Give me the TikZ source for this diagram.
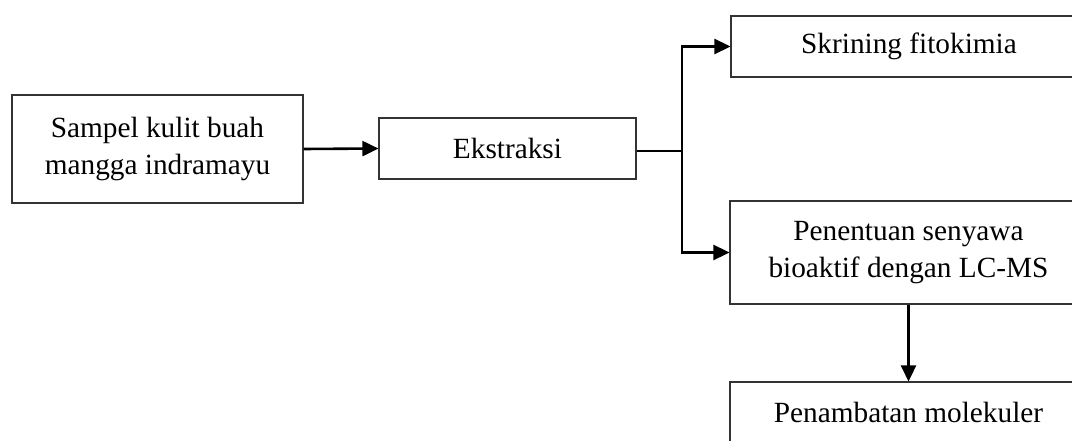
\documentclass[tikz,border=0pt]{standalone}
\usepackage{fontspec}
\setmainfont{Liberation Serif}
\usetikzlibrary{arrows.meta,positioning}

\tikzset{
  box/.style={draw=black!80, line width=1.1pt, align=center, inner sep=0pt,
    font=\fontsize{29.3}{37}\selectfont},
  arr/.style={-{Triangle[length=16pt,width=15pt]}, line width=2.6pt},
}

\begin{document}
\begin{tikzpicture}[x=1pt,y=-1pt]
  \useasboundingbox (0,0) rectangle (1072,441);
  \clip (0,0) rectangle (1072,441);
  \fill[white] (0,0) rectangle (1072,441);
  % boxes
  \node[box, minimum width=291pt, minimum height=108pt] (sampel) at (157.5,149) {Sampel kulit buah\\mangga indramayu};
  \node[box, minimum width=257pt, minimum height=61pt] (ekstraksi) at (507.5,148.5) {Ekstraksi};
  \node[box, minimum width=356pt, minimum height=61pt] (skrining) at (909,46.5) {Skrining fitokimia};
  \node[box, minimum width=357pt, minimum height=103pt] (penentuan) at (908.5,252.5) {Penentuan senyawa\\bioaktif dengan LC-MS};
  \node[box, minimum width=357pt, minimum height=61pt] (penambatan) at (908.5,412.5) {Penambatan molekuler};
  \coordinate (split) at (682,151);
  % arrows
  \draw[arr] (sampel.east) -- (ekstraksi.west);
  \draw[line width=1.5pt] (ekstraksi.east |- split) -- (split);
  \draw[arr] (split) |- (skrining.west);
  \draw[arr] (split) |- (penentuan.west);
  \draw[arr] (penentuan.south) -- (penambatan.north);
\end{tikzpicture}
\end{document}
